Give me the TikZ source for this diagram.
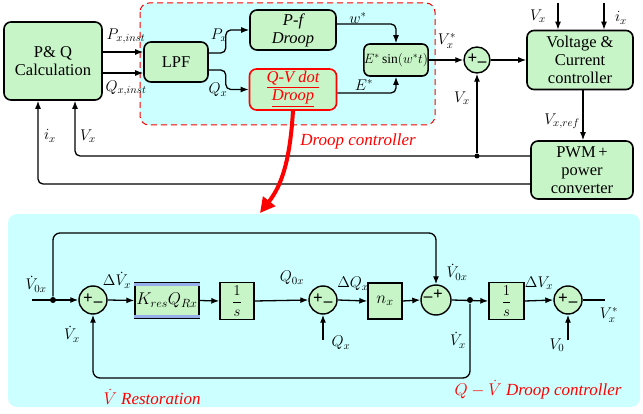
\RequirePackage{fix-cm}
\documentclass[tikz,border=0pt]{standalone}
\usepackage{amsmath}
\usepackage{fontspec}
\setmainfont{Liberation Serif}
\usetikzlibrary{arrows.meta}
\definecolor{boxgreen}{RGB}{200,245,200}
\definecolor{panelcyan}{RGB}{204,255,255}
\definecolor{edgeblue}{RGB}{150,175,235}
\begin{document}
\begin{tikzpicture}[x=1pt,y=-1pt,line width=1.3pt,
  >={Latex[length=8pt,width=6pt]},
  blk/.style={draw,line width=1.6pt,rounded corners=7pt,fill=boxgreen,align=center,
    inner sep=0pt,font=\fontsize{16.5}{18}\selectfont},
  sq/.style={draw,line width=1.4pt,fill=boxgreen,inner sep=0pt,font=\fontsize{15}{15}\selectfont},
  sumc/.style={draw,circle,line width=1.4pt,fill=boxgreen,minimum size=28pt,inner sep=0pt},
  sgn/.style={font=\fontsize{17}{17}\bfseries\selectfont,inner sep=0pt},
  lbl/.style={font=\fontsize{15.5}{15.5}\selectfont,inner sep=0pt},
  redlbl/.style={text=red,font=\fontsize{17}{17}\itshape\selectfont,inner sep=0pt},
  dot/.style={circle,fill,inner sep=0pt,minimum size=6pt}]
\useasboundingbox (0,0) rectangle (643,414);
\fill[panelcyan,rounded corners=9pt] (8,214) rectangle (640,407);
\draw[red,dash pattern=on 6pt off 4pt,line width=1pt,fill=panelcyan,rounded corners=9pt] (140,3) rectangle (435,125);

\node[blk,minimum width=98pt,minimum height=78pt] (pq) at (53,61) {P\& Q\\Calculation};
\node[blk,minimum width=64pt,minimum height=40pt] (lpf) at (176,62) {LPF};
\node[blk,minimum width=86pt,minimum height=40pt,font=\fontsize{16.5}{18}\itshape\selectfont] (pf) at (293,30) {P-f\\Droop};
\node[blk,draw=red,minimum width=87pt,minimum height=41pt,text=red,font=\fontsize{16.5}{18}\itshape\selectfont] (qv) at (293,89.5) {\underline{Q-V dot}\\\underline{Droop}};
\node[blk,rounded corners=6pt,minimum width=64pt,minimum height=32pt,font=\fontsize{13.5}{13.5}\selectfont] (esin) at (396,60) {$E^{*}\sin(w^{*}t)$};
\node[sumc,minimum size=26pt] (sum0) at (477,60) {};
\node[sgn] at ([xshift=-4.5pt,yshift=1pt]sum0) {+};
\node[sgn] at ([xshift=5pt,yshift=-4pt]sum0) {--};
\node[blk,minimum width=106pt,minimum height=59pt] (vc) at (580,60) {Voltage \&\\Current\\controller};
\node[blk,minimum width=102pt,minimum height=58pt] (pwm) at (582,170) {PWM\,+\\power\\converter};
\node[dot,minimum size=5pt] (jv) at (477,156) {};
\coordinate (vxin) at (558,3);
\coordinate (ixin) at (604,3);

\draw[->] ([yshift=9pt]pq.east) -- ([yshift=10pt]lpf.west);
\draw[->] ([yshift=-12pt]pq.east) -- ([yshift=-11pt]lpf.west);
\draw[->,rounded corners=5pt] ([yshift=9pt]lpf.east) -- ++(17,0) |- (pf.west);
\draw[->,rounded corners=5pt] ([yshift=-8pt]lpf.east) -- ++(17,0) |- (qv.west);
\draw[->,rounded corners=5pt] ([yshift=6pt]pf.east) -| (esin.north);
\draw[->,rounded corners=5pt] ([yshift=-3.5pt]qv.east) -| (esin.south);
\draw[->] (esin.east) -- (sum0.west);
\draw[->] (sum0.east) -- (vc.west);
\draw[->] (vxin) -- (vxin |- vc.north);
\draw[->] (ixin) -- (ixin |- vc.north);
\draw[->] ([xshift=3pt]vc.south) -- ([xshift=1pt]pwm.north);
\draw[<-,rounded corners=5pt] ([xshift=22pt]pq.south) |- ([yshift=14pt]pwm.west);
\draw[<-,rounded corners=5pt] ([xshift=-15pt]pq.south) |- ([yshift=-14pt]pwm.west);
\draw[->] (jv) -- (sum0.south);

\node[lbl] at (126,36) {$P_{x,inst}$};
\node[lbl] at (126,88) {$Q_{x,inst}$};
\node[lbl] at (219,35) {$P_x$};
\node[lbl] at (218,90) {$Q_x$};
\node[lbl] at (358,18) {$w^{*}$};
\node[lbl] at (364,85) {$E^{*}$};
\node[lbl] at (447,41) {$V_x^{*}$};
\node[lbl] at (462,98) {$V_x$};
\node[lbl] at (538,16) {$V_x$};
\node[lbl] at (621,18) {$i_x$};
\node[lbl] at (562,121) {$V_{x,ref}$};
\node[lbl] at (50,136) {$i_x$};
\node[lbl] at (88,136) {$V_x$};

\coordinate (redtip) at (260,213);
\draw[red,line width=4pt,-{Triangle[length=15pt,width=15pt]}] (qv.south) .. controls (290,160) and (282,185) .. (redtip);
\node[redlbl] at (358,141) {Droop controller};

\node[sumc] (s1) at (93,300) {};
\node[sgn] at ([xshift=-5pt,yshift=1pt]s1) {+};
\node[sgn] at ([xshift=5pt,yshift=-4pt]s1) {--};
\node[sq,minimum width=64pt,minimum height=36pt,font=\fontsize{17}{17}\selectfont] (kq) at (167,300.5) {$K_{res}Q_{Rx}$};
\node[sq,minimum width=34pt,minimum height=37pt] (i1) at (237,301) {$\dfrac{1}{s}$};
\node[sumc] (s2) at (323,300) {};
\node[sgn] at ([xshift=-5pt,yshift=1pt]s2) {+};
\node[sgn] at ([xshift=5pt,yshift=-4pt]s2) {--};
\node[sq,minimum width=34pt,minimum height=36pt,font=\fontsize{17}{17}\selectfont] (nx) at (385,301) {$n_x$};
\node[sumc,minimum size=30pt] (s3) at (436,300) {};
\node[sgn] at ([xshift=-8pt,yshift=1pt]s3) {--};
\node[sgn] at ([xshift=2pt,yshift=5pt]s3) {+};
\node[sq,minimum width=35pt,minimum height=37pt] (i2) at (506.5,301) {$\dfrac{1}{s}$};
\node[sumc] (s4) at (568,300) {};
\node[sgn] at ([xshift=-5pt,yshift=1pt]s4) {+};
\node[sgn] at ([xshift=5pt,yshift=-4pt]s4) {--};
\node[dot] (j1) at (53,300) {};
\node[dot] (j2) at (470,300) {};
\coordinate (vin) at (32,300);
\coordinate (vout) at (605,300);
\coordinate (qin) at (323,340);
\coordinate (v0in) at (568,340);
\fill[edgeblue] ([yshift=-1pt]kq.north west) rectangle ([yshift=-4pt]kq.north east);
\fill[edgeblue] ([yshift=1pt]kq.south west) rectangle ([yshift=4pt]kq.south east);

\draw[->] (vin) -- (s1.west);
\draw[->] (s1.east) -- (kq.west);
\draw[->] (kq.east) -- (i1.west);
\draw[->] (i1.east) -- (s2.west);
\draw[->] (s2.east) -- (nx.west);
\draw[->] (nx.east) -- (s3.west);
\draw[->] (s3.east) -- (i2.west);
\draw[->] (i2.east) -- (s4.west);
\draw (s4.east) -- (vout);
\draw[->] (qin) -- (s2.south);
\draw[->] (v0in) -- (s4.south);
\draw[->,rounded corners=7pt] (j1) -- (53,233) -| (s3.north);
\draw[->,rounded corners=7pt] (j2) |- (93,378) -- (s1.south);

\node[lbl] at (36,284) {$\dot{V}_{0x}$};
\node[lbl] at (117,280) {$\Delta\dot{V}_x$};
\node[lbl] at (72,334) {$\dot{V}_x$};
\node[lbl] at (292,278) {$Q_{0x}$};
\node[lbl] at (341,343) {$Q_x$};
\node[lbl] at (353,284) {$\Delta Q_x$};
\node[lbl] at (457,272) {$\dot{V}_{0x}$};
\node[lbl] at (458,340) {$\dot{V}_x$};
\node[lbl] at (539,283) {$\Delta V_x$};
\node[lbl] at (557,345) {$V_0$};
\node[lbl] at (609,315) {$V_x^{*}$};
\node[redlbl] at (152,397) {$\dot{V}$ Restoration};
\node[redlbl] at (538,390) {$Q-\dot{V}$ Droop controller};
\end{tikzpicture}
\end{document}
